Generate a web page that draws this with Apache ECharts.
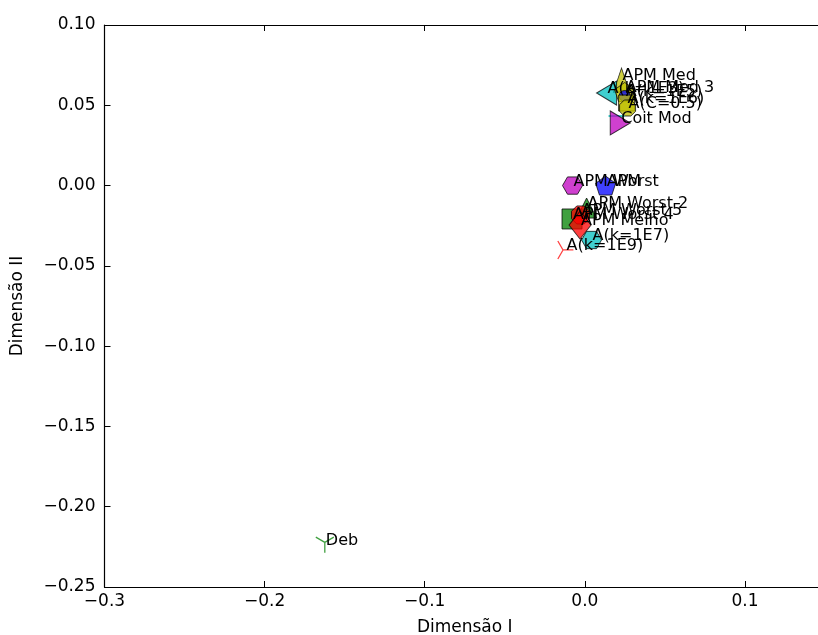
<!DOCTYPE html>
<html>
<head>
<meta charset="utf-8">
<script src="https://cdn.jsdelivr.net/npm/echarts@6/dist/echarts.min.js"></script>
<style>
  html, body { margin: 0; padding: 0; background: #fff; }
  #chart { width: 818px; height: 635px; }
</style>
</head>
<body>
<div id="chart"></div>
<script>
// Two-dimensional projection of the methods (Dimensão I x Dimensão II)
const pointLabels = [
  'Deb', 'A(k=1E9)', 'A(k=1E7)', 'APM Worst', 'APM', 'APM Worst 2',
  'APM Worst 4', 'APM Worst 5', 'APM Melho',
  'APM Med', 'A(k=1E3)', 'APM Med 3', 'A(k=1E5)', 'A(k=1E6)', 'A(C=0.5)', '', 'Coit Mod'
];
const dimI = [
  -0.1624, -0.0120, 0.0042, -0.0077, 0.0130, 0.0011,
  -0.0080, -0.0027, -0.0030,
  0.0229, 0.0136, 0.0249, 0.0249, 0.0261, 0.0267, 0.0198, 0.0221
];
const dimII = [
  -0.2238, -0.0401, -0.0339, 0.0000, 0.0000, -0.0140,
  -0.0208, -0.0183, -0.0246,
  0.0657, 0.0576, 0.0583, 0.0558, 0.0514, 0.0483, 0.0433, 0.0390
];
const xTicks = [-0.3, -0.2, -0.1, 0.0, 0.1];
const yTicks = [-0.25, -0.20, -0.15, -0.10, -0.05, 0.00, 0.05, 0.10];

// marker shapes
const HEX = 'path://M-1,0 L-0.5,-0.866 L0.5,-0.866 L1,0 L0.5,0.866 L-0.5,0.866 Z';
const PENT = 'path://M0,-1 L0.951,-0.309 L0.588,0.809 L-0.588,0.809 L-0.951,-0.309 Z';
const OCT = 'path://M-0.383,-0.924 L0.383,-0.924 L0.924,-0.383 L0.924,0.383 L0.383,0.924 L-0.383,0.924 L-0.924,0.383 L-0.924,-0.383 Z';
const TRI_DOWN = 'path://M0,0 L0,1 M0,0 L-0.866,-0.5 M0,0 L0.866,-0.5';
const TRI_RIGHT = 'path://M0,0 L1,0 M0,0 L-0.5,-0.866 M0,0 L-0.5,0.866';

// base colours, drawn at 75% alpha
const C = {
  b: 'rgba(0,0,255,0.75)', g: 'rgba(0,128,0,0.75)', r: 'rgba(255,0,0,0.75)',
  c: 'rgba(0,191,191,0.75)', m: 'rgba(191,0,191,0.75)', y: 'rgba(191,191,0,0.75)'
};
const EDGE = 'rgba(0,0,0,0.75)';

const markers = [
  { symbol: TRI_DOWN, size: 18, color: C.g, line: true },
  { symbol: TRI_RIGHT, size: 18, color: C.r, line: true },
  { symbol: HEX, size: 20, color: C.c },
  { symbol: HEX, size: 20, color: C.m },
  { symbol: PENT, size: 20, color: C.b },
  { symbol: 'triangle', size: 20, color: C.g },
  { symbol: 'rect', size: 20, color: C.g },
  { symbol: OCT, size: 18, color: C.r },
  { symbol: 'diamond', size: [22, 28], color: C.r },
  { symbol: 'triangle', size: [16, 24], color: C.y },
  { symbol: 'triangle', size: [24, 20], color: C.c, rotate: 90 },
  { symbol: PENT, size: 20, color: C.y },
  { symbol: 'circle', size: 11, color: C.b },
  { symbol: 'rect', size: 16, color: C.y },
  { symbol: OCT, size: 16, color: C.y },
  { symbol: 'rect', size: [16, 2], color: C.c, flat: true },
  { symbol: 'triangle', size: [24, 20], color: C.m, rotate: -90 }
];

const font = 'DejaVu Sans, sans-serif';
const minus = s => s.replace('-', '\u2212');

function markerStyle(mk) {
  if (mk.line) return { color: 'rgba(0,0,0,0)', borderColor: mk.color, borderWidth: 1.3, opacity: 1 };
  if (mk.flat) return { color: mk.color, borderWidth: 0, opacity: 1 };
  return { color: mk.color, borderColor: EDGE, borderWidth: 1, opacity: 1 };
}

const data = pointLabels.map((name, i) => {
  const mk = markers[i];
  return {
    name,
    value: [dimI[i], dimII[i]],
    symbol: mk.symbol,
    symbolSize: mk.size,
    symbolRotate: mk.rotate || 0,
    symbolKeepAspect: true,
    itemStyle: markerStyle(mk)
  };
});

const chart = echarts.init(document.getElementById('chart'));
chart.setOption({
  animation: false,
  backgroundColor: '#fff',
  grid: { left: 104.5, right: -7, top: 25, bottom: 48, containLabel: false, outerBoundsMode: 'none' },
  xAxis: [{
    type: 'value', position: 'bottom', min: -0.3, max: 0.15,
    name: 'Dimensão I', nameLocation: 'middle', nameGap: 32,
    nameTextStyle: { fontFamily: font, fontSize: 17, color: '#000' },
    axisLine: { show: true, onZero: false, lineStyle: { color: '#000', width: 1.2 } },
    axisTick: { show: true, inside: true, length: 6, customValues: xTicks, lineStyle: { color: '#000' } },
    axisLabel: { customValues: xTicks, margin: 6, fontFamily: font, fontSize: 17, color: '#000',
                 formatter: v => minus(v.toFixed(1)) },
    splitLine: { show: false }
  }, {
    type: 'value', position: 'top', min: -0.3, max: 0.15,
    axisLine: { show: true, onZero: false, lineStyle: { color: '#000', width: 1.2 } },
    axisTick: { show: true, inside: true, length: 6, customValues: xTicks, lineStyle: { color: '#000' } },
    axisLabel: { show: false },
    splitLine: { show: false }
  }],
  yAxis: [{
    type: 'value', position: 'left', min: -0.25, max: 0.10,
    name: 'Dimensão II', nameLocation: 'middle', nameGap: 78,
    nameTextStyle: { fontFamily: font, fontSize: 17, color: '#000' },
    axisLine: { show: true, onZero: false, lineStyle: { color: '#000', width: 1.2 } },
    axisTick: { show: true, inside: true, length: 6, customValues: yTicks, lineStyle: { color: '#000' } },
    axisLabel: { customValues: yTicks, margin: 9, fontFamily: font, fontSize: 17, color: '#000',
                 formatter: v => minus(v.toFixed(2)) },
    splitLine: { show: false }
  }, {
    type: 'value', position: 'right', min: -0.25, max: 0.10,
    axisLine: { show: true, onZero: false, lineStyle: { color: '#000', width: 1.2 } },
    axisTick: { show: false }, axisLabel: { show: false }, splitLine: { show: false }
  }],
  series: [{
    type: 'scatter',
    xAxisIndex: 0, yAxisIndex: 0,
    data,
    itemStyle: { opacity: 1 },
    emphasis: { disabled: true },
    label: {
      show: true,
      position: 'inside',
      align: 'left',
      verticalAlign: 'bottom',
      offset: [1, 4],
      formatter: p => p.name,
      fontFamily: font,
      fontSize: 16,
      color: '#000',
      opacity: 1,
      textBorderWidth: 0,
      textBorderColor: 'transparent'
    }
  }]
});
</script>
</body>
</html>
